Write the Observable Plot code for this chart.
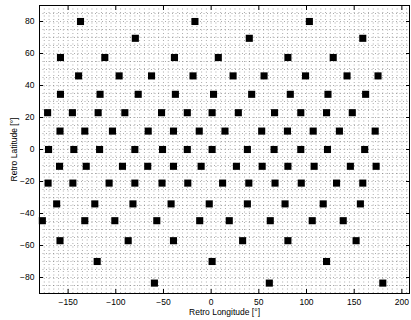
<!DOCTYPE html>
<html><head><meta charset="utf-8">
<script src="https://cdn.jsdelivr.net/npm/d3@7"></script>
<script src="https://cdn.jsdelivr.net/npm/@observablehq/plot@0.6"></script>
<style>body{margin:0;background:#fff} svg{display:block}</style>
</head><body><div id="chart"></div>
<script>
// Sample positions (retro longitude / latitude, degrees), read row by row
const lon = [
  -137, -17, 103,
  -79.5, 40, 159,
  -158, -111.5, -38.5, 7.5, 80.5, 128,
  -139, -96.5, -62.5, -19, 23, 55.5, 99, 142.5, 175,
  -158, -116.5, -76.5, -37.5, 2.5, 42.5, 83, 122.5, 162,
  -171.5, -145.5, -118.5, -90.5, -52, -25, 1, 28.5, 66.5, 94, 121, 148,
  -158.5, -132.5, -103.5, -66, -39.5, -12.5, 14.5, 53, 80, 107, 134.5, 172,
  -170.5, -144, -117, -80, -51, -25, 1, 38, 66, 94, 122, 161,
  -159, -131, -93, -66.5, -39.5, -10.5, 26.5, 53.5, 80.5, 108, 146, 173,
  -171, -145, -107, -80, -51.5, -24.5, 12, 39.5, 67, 94.5, 131.5, 159,
  -162, -122, -82, -42, -2, 38, 77.5, 117.5, 156.5,
  -177, -132.5, -101, -57, -12, 19, 62, 106, 138.5,
  -158.5, -87, -39.5, 33, 80.5, 152,
  -119.5, 1, 121,
  -59.5, 61, 180
];
const lat = [
  80, 80, 80,
  69.5, 69.5, 69.5,
  57.5, 57.5, 57.5, 57.5, 57.5, 57.5,
  46, 46, 46, 46, 46, 46, 46, 46, 46,
  34.5, 34.5, 34.5, 34.5, 34.5, 34.5, 34.5, 34.5, 34.5,
  23, 23, 23, 23, 23, 23, 23, 23, 23, 23, 23, 23,
  11.5, 11.5, 11.5, 11.5, 11.5, 11.5, 11.5, 11.5, 11.5, 11.5, 11.5, 11.5,
  0, 0, 0, 0, 0, 0, 0, 0, 0, 0, 0, 0,
  -10.5, -10.5, -10.5, -10.5, -10.5, -10.5, -10.5, -10.5, -10.5, -10.5, -10.5, -10.5,
  -21, -21, -21, -21, -21, -21, -21, -21, -21, -21, -21, -21,
  -34, -34, -34, -34, -34, -34, -34, -34, -34,
  -44.5, -44.5, -44.5, -44.5, -44.5, -44.5, -44.5, -44.5, -44.5,
  -57, -57, -57, -57, -57, -57,
  -70, -70, -70,
  -83.5, -83.5, -83.5
];
const xTicks = [-150, -100, -50, 0, 50, 100, 150, 200];
const yTicks = [-80, -60, -40, -20, 0, 20, 40, 60, 80];
const xGrid = d3.range(-180, 210, 5);
const yGrid = d3.range(-90, 91, 5);
const xLabel = "Retro Longitude [°]";
const yLabel = "Retro Latitude [°]";

const points = lon.map((x, i) => ({lon: x, lat: lat[i]}));

const chart = Plot.plot({
  width: 411,
  height: 320,
  marginLeft: 39,
  marginRight: 2,
  marginTop: 5,
  marginBottom: 27,
  style: {fontFamily: "'Liberation Sans', Arial, sans-serif", fontSize: "8.5px", background: "#fff", color: "#000"},
  x: {domain: [-180, 208]},
  y: {domain: [-90, 90]},
  marks: [
    Plot.gridX(xGrid, {stroke: "#666", strokeOpacity: 0.55, strokeDasharray: "1,2.5"}),
    Plot.gridY(yGrid, {stroke: "#666", strokeOpacity: 0.55, strokeDasharray: "1,2.5"}),
    Plot.axisX(xTicks, {anchor: "bottom", tickSize: -4, tickPadding: 9, label: xLabel, labelAnchor: "center", labelArrow: "none", labelOffset: 21}),
    Plot.axisX(xTicks, {anchor: "top", tickSize: -4, text: null, label: null}),
    Plot.axisY(yTicks, {anchor: "left", tickSize: -4, tickPadding: 9, label: yLabel, labelAnchor: "center", labelArrow: "none", labelOffset: 29}),
    Plot.axisY(yTicks, {anchor: "right", tickSize: -4, text: null, label: null}),
    Plot.frame({stroke: "#000", strokeWidth: 1}),
    Plot.dot(points, {x: "lon", y: "lat", symbol: "square", r: 4, fill: "#000", stroke: "none"})
  ]
});
document.getElementById("chart").append(chart);
</script>
</body></html>
